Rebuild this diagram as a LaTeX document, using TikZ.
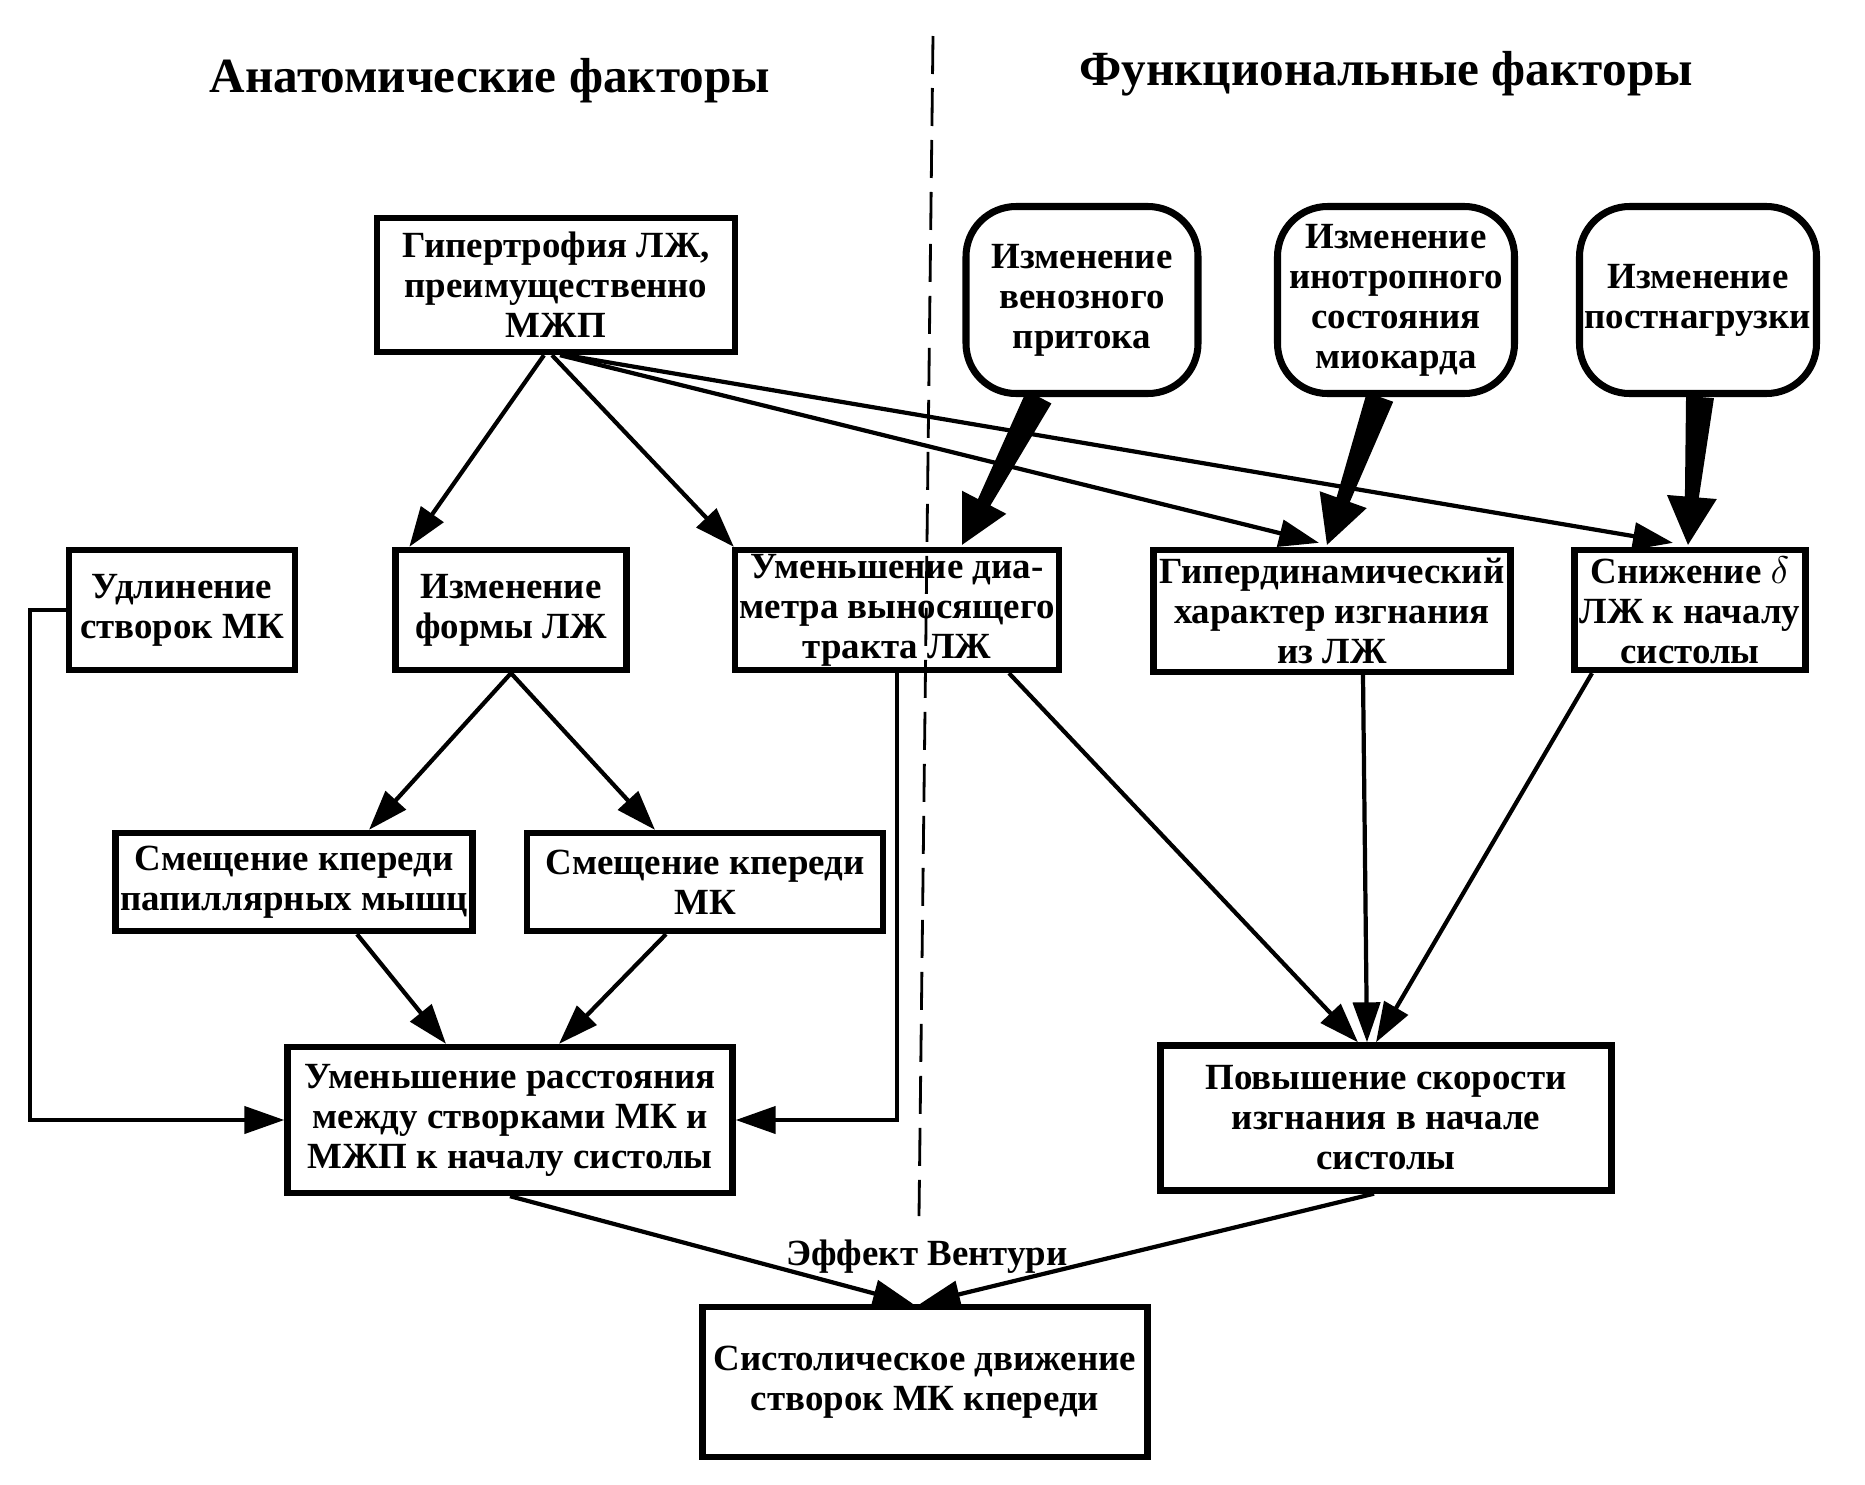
\documentclass[tikz,border=0pt]{standalone}
\usepackage{fontspec}
\setmainfont{Liberation Serif}
\usetikzlibrary{arrows.meta,calc}
\newcommand{\fatarrow}[2]{%
\path (#1) coordinate (fa1) (#2) coordinate (fa2);
\path ($(fa2)!4.8mm!(fa1)$) coordinate (fa3);
\fill ($(fa1)!1.4mm!90:(fa2)$) -- ($(fa3)!0.7mm!90:(fa2)$) -- ($(fa3)!2.5mm!90:(fa2)$) -- (fa2)
 -- ($(fa3)!2.5mm!-90:(fa2)$) -- ($(fa3)!0.7mm!-90:(fa2)$) -- ($(fa1)!1.4mm!-90:(fa2)$) -- cycle;
}
\begin{document}
\begin{tikzpicture}[x=0.1mm,y=-0.1mm,
  box/.style={draw,line width=1.8pt,inner sep=0pt,align=center,
    font=\bfseries\fontsize{10.5}{11.4}\selectfont},
  bubble/.style={box,line width=2pt,rounded corners=5mm},
  boxsize/.style 2 args={minimum width=#1mm,minimum height=#2mm},
  title/.style={font=\bfseries\fontsize{14}{16}\selectfont},
  arr/.style={line width=1.2pt,-{Triangle[length=4mm,width=2.7mm]}}]
\fill[white] (0,0) rectangle (1865,1485);
\useasboundingbox (0,0) rectangle (1865,1485);
\draw[line width=0.8pt,dash pattern=on 3.8mm off 1.4mm] (933,36) -- (919,1216);
\node[title] (anat) at (490,81) {Анатомические факторы};
\node[title] (func) at (1386,74) {Функциональные факторы};
\node[box,boxsize={35.8}{13.4}] (hyp) at (556,285) {Гипертрофия ЛЖ,\\преимущественно\\МЖП};
\node[box,boxsize={22.6}{12}] (udl) at (182,610) {Удлинение\\створок МК};
\node[box,boxsize={23.1}{12}] (forma) at (511,610) {Изменение\\формы ЛЖ};
\node[box,boxsize={32.4}{12}] (diam) at (897,610) {Уменьшение диа-\\метра выносящего\\тракта ЛЖ};
\node[box,boxsize={35.7}{12.2}] (hyper) at (1332,611) {Гипердинамический\\характер изгнания\\из ЛЖ};
\node[box,boxsize={23.1}{12}] (snizh) at (1690,610) {Снижение $\delta$\\ЛЖ к началу\\систолы};
\node[bubble,boxsize={23.2}{18.7}] (ven) at (1082,300) {Изменение\\венозного\\притока};
\node[bubble,boxsize={23.7}{18.7}] (ino) at (1396,300) {Изменение\\инотропного\\состояния\\миокарда};
\node[bubble,boxsize={23.7}{18.7}] (post) at (1698,300) {Изменение\\постнагрузки};
\node[box,boxsize={35.7}{9.8}] (pap) at (294,882) {Смещение кпереди\\папиллярных мышц};
\node[box,boxsize={35.6}{9.8}] (mksh) at (705,882) {Смещение кпереди\\МК};
\node[box,boxsize={44.5}{14.6}] (rasst) at (510,1120) {Уменьшение расстояния\\между створками МК и\\МЖП к началу систолы};
\node[box,boxsize={45.1}{14.5}] (skor) at (1386,1118) {Повышение скорости\\изгнания в начале\\систолы};
\node[box,boxsize={44.5}{15}] (sist) at (925,1382) {Систолическое движение\\створок МК кпереди};
\node[font=\bfseries\fontsize{10.5}{11.4}\selectfont] (vent) at (927,1257) {Эффект Вентури};
\draw[arr] ($(hyp.south)+(-12,0)$) -- ($(forma.north west)+(17,0)$);
\draw[arr] ($(hyp.south)+(-4,0)$) -- ($(diam.north west)+(2,0)$);
\draw[arr] ($(hyp.south)+(4,0)$) -- ($(hyper.north)+(-13,-4)$);
\draw[arr] ($(hyp.south)+(10,0)$) -- ($(snizh.north)+(-17,-4)$);
\fatarrow{$(ven.south)+(-43,0)$}{$(diam.north)+(65,-2)$}
\fatarrow{$(ino.south)+(-16,0)$}{$(hyper.north)+(-5,-2)$}
\fatarrow{$(post.south)+(2,0)$}{$(snizh.north)+(-2,-2)$}
\draw[arr] (forma.south) -- ($(pap.north)+(75,0)$);
\draw[arr] (forma.south) -- ($(mksh.north)+(-50,0)$);
\draw[arr] ($(pap.south)+(63,0)$) -- ($(rasst.north)+(-64,0)$);
\draw[arr] ($(mksh.south)+(-39,0)$) -- ($(rasst.north)+(49,0)$);
\draw[arr] (udl.west) -- ++(-36,0) |- (rasst.west);
\draw[arr] (diam.south) |- (rasst.east);
\draw[arr] ($(diam.south)+(112,0)$) -- ($(skor.north)+(-28,0)$);
\draw[arr] ($(hyper.south)+(31,0)$) -- ($(skor.north)+(-19,0)$);
\draw[arr] ($(snizh.south)+(-98,0)$) -- ($(skor.north)+(-10,0)$);
\draw[arr] (rasst.south) -- ($(sist.north)+(-12,0)$);
\draw[arr] ($(skor.south)+(-12,0)$) -- ($(sist.north)+(-5,0)$);
\end{tikzpicture}
\end{document}
